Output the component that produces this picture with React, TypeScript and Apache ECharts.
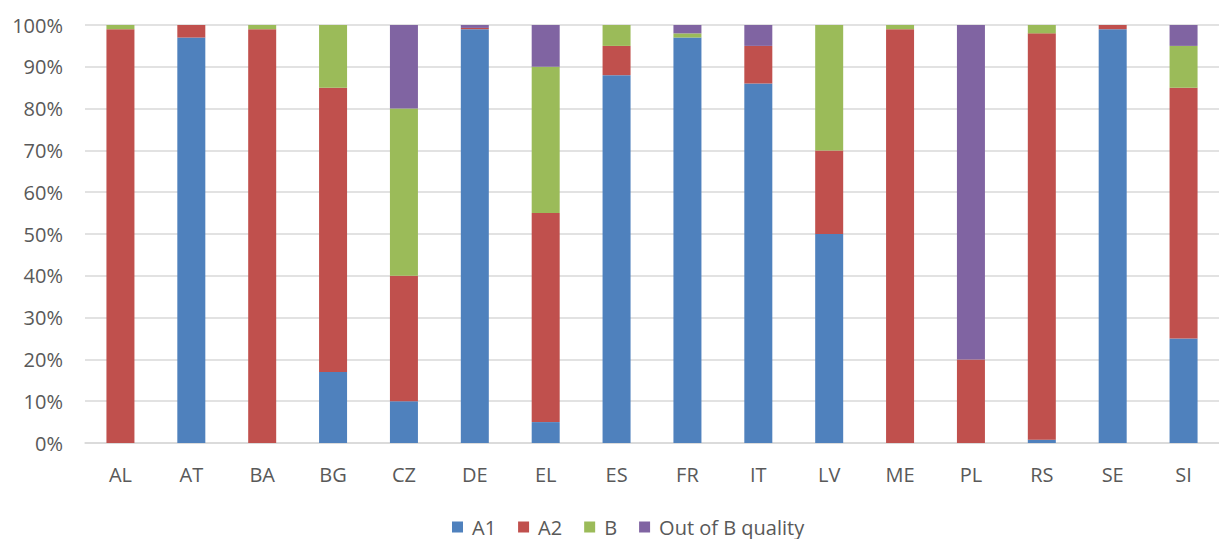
import React, { useEffect, useRef } from "react";
import * as echarts from "echarts";

const categories = ["AL", "AT", "BA", "BG", "CZ", "DE", "EL", "ES", "FR", "IT", "LV", "ME", "PL", "RS", "SE", "SI"];
const seriesNames = ["A1", "A2", "B", "Out of B quality"];
const a1 = [0, 97, 0, 17, 10, 99, 5, 88, 97, 86, 50, 0, 0, 0.8, 99, 25];
const a2 = [99, 3, 99, 68, 30, 0.3, 50, 7, 0, 9, 20, 99, 20, 97.2, 1, 60];
const bq = [1, 0, 1, 15, 40, 0, 35, 5, 1, 0, 30, 1, 0, 2, 0, 10];
const outB = [0, 0, 0, 0, 20, 0.7, 10, 0, 2, 5, 0, 0, 80, 0, 0, 5];
const colors = ["#4F81BD", "#C0504D", "#9BBB59", "#8064A2"];

export default function App() {
  const ref = useRef<HTMLDivElement>(null);
  useEffect(() => {
    if (!ref.current) return;
    const chart = echarts.init(ref.current, null, { renderer: "svg" });
    const data = [a1, a2, bq, outB];
    const font = "'Open Sans', sans-serif";
    chart.setOption({
      animation: false,
      color: colors,
      grid: { left: 85, right: -10, top: 25, bottom: 96, containLabel: false },
      legend: {
        data: seriesNames,
        left: 452,
        top: 517,
        icon: "rect",
        itemWidth: 11,
        itemHeight: 11,
        itemGap: 22,
        padding: 0,
        textStyle: { color: "#595959", fontSize: 20, fontFamily: font, padding: [0, 0, 0, 4] },
      },
      xAxis: {
        type: "category",
        data: categories,
        axisTick: { show: false },
        axisLine: { lineStyle: { color: "#D9D9D9", width: 1.5 } },
        axisLabel: { color: "#595959", fontSize: 20, fontFamily: font, margin: 21 },
      },
      yAxis: {
        type: "value",
        min: 0,
        max: 100,
        interval: 10,
        axisLine: { show: false },
        axisTick: { show: false },
        splitLine: { lineStyle: { color: "#D9D9D9", width: 1.5 } },
        axisLabel: { color: "#595959", fontSize: 20, fontFamily: font, margin: 22, formatter: "{value}%" },
      },
      series: seriesNames.map((name, i) => ({
        name,
        type: "bar",
        stack: "total",
        barWidth: 28,
        data: data[i],
        itemStyle: { color: colors[i] },
      })),
    });
    return () => chart.dispose();
  }, []);
  return <div ref={ref} style={{ position: "absolute", left: 0, top: 0, width: 1219, height: 539 }} />;
}
